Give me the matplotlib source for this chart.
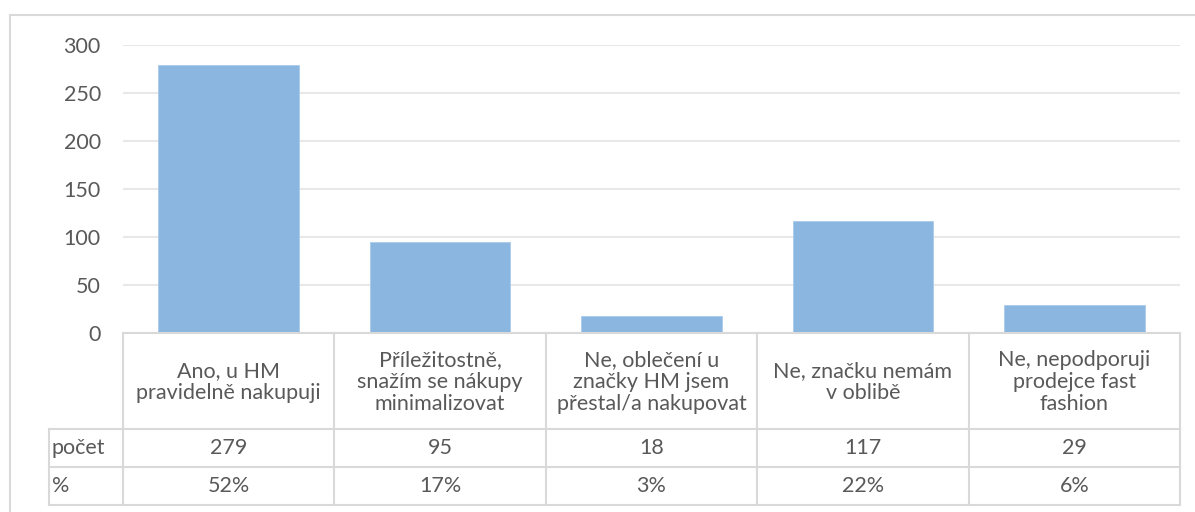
import matplotlib
matplotlib.use("Agg")
import matplotlib.pyplot as plt
from matplotlib.lines import Line2D

categories = [
    "Ano, u HM\npravidelně nakupuji",
    "Příležitostně,\nsnažím se nákupy\nminimalizovat",
    "Ne, oblečení u\nznačky HM jsem\npřestal/a nakupovat",
    "Ne, značku nemám\nv oblibě",
    "Ne, nepodporuji\nprodejce fast\nfashion",
]
counts = [279, 95, 18, 117, 29]
percents = ["52%", "17%", "3%", "22%", "6%"]
row_labels = ["počet", "%"]
yticks = [0, 50, 100, 150, 200, 250, 300]

W, H = 1195, 512
plt.rcParams['font.family'] = ['Lato', 'DejaVu Sans']
fig = plt.figure(figsize=(W / 100, H / 100), dpi=100)

def fx(px):
    return px / W

def fy(py):
    return 1 - py / H

FS = 15.5
txt_color = "#595959"
grid_color = "#E8E8E8"
line_color = "#D9D9D9"
bar_color = "#8BB6E0"

x_left, x_right = 123, 1180
y_zero, y_top = 333, 45
ax = fig.add_axes([fx(x_left), fy(y_zero), fx(x_right) - fx(x_left), fy(y_top) - fy(y_zero)])
xs = list(range(len(categories)))
ax.bar(xs, counts, width=0.665, color=bar_color, edgecolor="#A9CBEB", linewidth=0.6, zorder=3)
ax.set_xlim(-0.5, len(categories) - 0.5)
ax.set_ylim(0, 300)
ax.set_yticks(yticks)
ax.set_yticklabels([str(v) for v in yticks], fontsize=FS, color=txt_color)
ax.set_xticks([])
ax.tick_params(axis="y", length=0, pad=16)
for s in ax.spines.values():
    s.set_visible(False)
ax.yaxis.grid(True, color=grid_color, linewidth=1.5, zorder=0)
ax.set_axisbelow(True)

# outer chart border (left and top visible)
fig.add_artist(Line2D([fx(10), fx(10)], [fy(15), 0], color=line_color, lw=1.5))
fig.add_artist(Line2D([fx(10), 1], [fy(15), fy(15)], color=line_color, lw=1.5))

# data table
col_edges = [x_left + (x_right - x_left) * i / len(categories) for i in range(len(categories) + 1)]
hdr_left = 49
r0, r1, r2, r3 = 333, 429, 467, 505

def hline(x0, x1, y):
    fig.add_artist(Line2D([fx(x0), fx(x1)], [fy(y), fy(y)], color=line_color, lw=1.5))

def vline(x, y0, y1):
    fig.add_artist(Line2D([fx(x), fx(x)], [fy(y0), fy(y1)], color=line_color, lw=1.5))

hline(x_left, x_right, r0)
for y in (r1, r2, r3):
    hline(hdr_left, x_right, y)
vline(hdr_left, r1, r3)
for x in col_edges:
    vline(x, r0, r3)

for i, cat in enumerate(categories):
    cx = (col_edges[i] + col_edges[i + 1]) / 2
    fig.text(fx(cx), fy((r0 + r1) / 2 + 1), cat, ha="center", va="center",
             fontsize=FS, color=txt_color, linespacing=1.12)
    fig.text(fx(cx), fy((r1 + r2) / 2), str(counts[i]), ha="center", va="center",
             fontsize=FS, color=txt_color)
    fig.text(fx(cx), fy((r2 + r3) / 2), percents[i], ha="center", va="center",
             fontsize=FS, color=txt_color)

fig.text(fx(hdr_left + 3), fy((r1 + r2) / 2), row_labels[0], ha="left", va="center",
         fontsize=FS, color=txt_color)
fig.text(fx(hdr_left + 3), fy((r2 + r3) / 2), row_labels[1], ha="left", va="center",
         fontsize=FS, color=txt_color)

fig.savefig("out.png", dpi=100, facecolor="white")
